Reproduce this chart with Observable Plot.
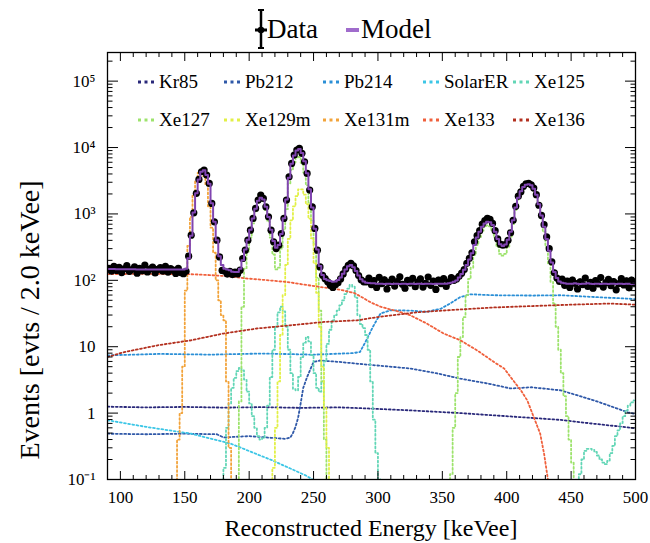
<!DOCTYPE html>
<html><head><meta charset="utf-8">
<script src="https://cdn.jsdelivr.net/npm/d3@7"></script>
<script src="https://cdn.jsdelivr.net/npm/@observablehq/plot@0.6"></script>
<style>
body{margin:0;background:#fff;}
#wrap{position:relative;width:650px;height:543px;font-family:"Liberation Serif","Times New Roman",serif;color:#000;overflow:hidden;}
#wrap > svg{position:absolute;left:0;top:0;}
.ov{position:absolute;white-space:nowrap;line-height:1;}
</style></head><body><div id="wrap"></div>
<script>
// ---------- data ----------
const energyBins = d3.range(91, 500, 2); // 2 keV bin centres
const dataCounts = [152,138,162,141,157,131,149,166,136,145,
 160,128,151,139,170,134,148,158,129,146,
 155,137,163,133,150,142,127,152,131,126,
 137,231,479,1040,2040,3310,4320,4570,3850,2880,
 1440,760,403,225,141,137,124,136,122,133,
 125,142,213,284,403,570,855,1210,1615,1920,
 1710,1280,905,570,380,301,338,507,855,1615,
 3630,5770,7710,9170,9720,8170,6110,4070,2290,1280,
 604,284,159,119,106,95,84,78,86,92,
 105,125,148,168,180,165,140,118,102,95,
 95,108,86,99,78,111,89,102,74,93,
 104,82,96,113,87,76,100,91,107,80,
 94,105,79,90,112,84,97,73,101,89,
 106,81,95,110,100,105,115,128,145,180,
 215,260,380,470,560,700,790,855,830,720,
 560,420,350,338,345,400,520,800,1300,1850,
 2150,2600,2850,2900,2750,2450,1950,1350,950,690,
 450,300,190,130,108,96,104,84,97,78,
 101,90,74,95,86,108,81,93,76,99,
 88,110,79,92,103,83,96,72,89,106,
 85,98,77,101,91];
const modelCounts = [148,148,148,147,147,147,147,147,147,147,
 147,146,146,146,146,146,146,146,146,146,
 146,146,146,145,145,145,145,145,145,146,
 150,215,470,1050,2050,3300,4300,4530,3850,2850,
 1450,760,400,230,170,150,145,142,135,133,
 133,150,200,290,410,580,850,1200,1580,1750,
 1650,1280,900,580,390,310,340,500,860,1650,
 3500,5700,7600,9000,9500,8300,6200,4100,2350,1250,
 600,290,165,120,105,100,98,95,96,101,
 110,126,146,163,170,158,138,118,104,96,
 92,91,90,90,89,89,89,88,89,89,
 88,89,89,88,89,89,88,89,89,88,
 89,89,88,89,89,89,88,89,89,89,
 89,89,90,92,95,99,110,124,144,170,
 205,255,340,440,540,640,720,760,750,680,
 540,420,350,330,345,410,540,800,1250,1750,
 2200,2550,2750,2800,2700,2400,1950,1400,950,640,
 420,280,185,133,108,96,92,90,89,89,
 89,90,89,88,89,89,90,89,88,89,
 89,88,89,89,88,89,89,88,89,89,
 88,89,89,88,89];

const kr85E = [90,120,150,180,210,240,270,290,325,364,403,442,468,494,500];
const kr85V = [1.25,1.22,1.24,1.21,1.23,1.2,1.22,1.18,1.1,1.0,0.89,0.79,0.69,0.61,0.59];
const pb212E = [90,120,150,175,180,200,220,228,232,234,236,238,240,242,245,250,255,270,286,305,325,345,364,385,403,419,442,468,494,500];
const pb212V = [0.49,0.48,0.49,0.48,0.43,0.45,0.42,0.41,0.43,0.5,0.62,0.85,1.4,2.4,3.5,5.9,6.2,5.9,5.5,5.1,4.7,4.0,3.3,2.8,2.35,2.45,2.2,1.55,1.03,0.97];
const pb214E = [90,130,170,210,250,280,286,291,296,302,310,325,338,349,356,364,372,390,420,442,468,494,500];
const pb214V = [7.4,7.8,7.6,7.9,7.6,8.0,8.3,12.5,19.8,31.6,35.4,35,33.5,37.5,44.7,56,61.6,59.6,59,59.6,56,53,52];
const solarE = [90,120,155,186,218,244,250,255];
const solarV = [0.78,0.62,0.49,0.345,0.194,0.115,0.098,0.06];
const xe125E1 = d3.range(179, 305, 2);
const xe125V1 = [0.05,0.15,0.6,1.4,2.4,3.4,4.3,4.8,4.4,3.2,
 2.1,1.4,0.9,0.6,0.45,0.4,0.42,0.6,1.3,3.5,
 9,20,33,40,34,20,9,4,2.3,2.2,
 3.5,7,11.5,14,12,7.5,4,2.4,2.1,3,
 6,11,18,25,30,35,42,50,62,75,
 85,80,55,30,22,19,15,9,3,0.8,
 0.25,0.1,0.03];
const xe125E2 = d3.range(455, 501, 2);
const xe125V2 = [0.06,0.12,0.2,0.27,0.29,0.29,0.28,0.26,0.23,0.2,0.18,0.17,0.19,0.25,0.32,0.45,0.55,0.7,0.9,1.1,1.3,1.45,1.55];
const xe127E1 = d3.range(191, 265, 2);
const xe127V1 = [0.08,1.5,40,150,270,440,720,1080,1480,1790,
 1580,1150,770,440,245,146,155,300,580,1180,
 2900,4600,6000,7100,7200,5900,4200,2700,1450,800,
 350,110,35,3,0.4,0.08,0.02];
const xe127E2 = d3.range(355, 457, 2);
const xe127V2 = [0.05,0.12,0.6,2,7,14,28,60,105,155,
 240,340,450,560,640,670,650,570,440,320,
 250,235,250,315,440,700,1150,1650,2100,2450,
 2650,2700,2600,2300,1850,1300,850,540,320,180,
 95,45,20,9,4,1.8,0.9,0.4,0.18,0.08,0.03];
const xe129mE = d3.range(217, 267, 2);
const xe129mV = [0.05,0.15,0.6,3,15,60,170,420,800,1300,
 1850,2350,2350,1950,1400,850,430,180,65,20,
 5,1.2,0.3,0.08,0.02];
const xe131mE = d3.range(141, 191, 2);
const xe131mV = [0.03,0.08,0.4,1.0,5,70,330,900,1900,3150,
 4150,4400,3700,2730,1300,620,260,100,50,30,
 25,3,0.3,0.08,0.02];
const xe133E = [90,120,153,169,184,197,210,220,230,243,256,271,282,288,294,302,317,325,338,351,364,377,390,398,403,411,416,421,426,429,432,435];
const xe133V = [124,125,124,120,115,107,102,98,94,86,79,72,64,55,47,40,33.4,29.8,22.3,15.8,12.5,8.8,5.9,4.7,3.5,2.2,1.55,0.87,0.49,0.245,0.1,0.04];
const xe136E = [90,103,129,155,180,206,232,258,284,300,330,360,390,420,450,480,500];
const xe136V = [7.0,8.3,10.5,12.5,15.8,18.8,21,23.6,25,28,33,36,39,41,43,44.7,43];

const componentNames = ["Kr85","Pb212","Pb214","SolarER","Xe125","Xe127","Xe129m","Xe131m","Xe133","Xe136"];
const componentColors = ["#29287a","#2f58a8","#2b8fd6","#3cc6e6","#62d6b6","#9de36c","#e2f046","#f2a33a","#f0603c","#b3301f"];

const xMajorTicks = [100,150,200,250,300,350,400,450,500];
const xMinorTicks = d3.range(90, 501, 10).filter(d => d % 50 !== 0);
const yMajorTicks = [0.1,1,10,100,1e3,1e4,1e5];
const yTickLabels = ["10\u207B\u00B9","1","10","10\u00B2","10\u00B3","10\u2074","10\u2075"];
const yMinorTicks = [];
for (let k = -1; k <= 5; k++) for (let m = 2; m <= 9; m++) { const t = m * Math.pow(10, k); if (t < 2.7e5) yMinorTicks.push(t); }

// ---------- tables ----------
const rows = (E, V) => E.map((e, i) => ({E: e, v: V[i]}));
const dataRows = rows(energyBins, dataCounts);
const modelRows = rows(energyBins, modelCounts);
const components = [
  {name: "Kr85", parts: [[kr85E, kr85V, "linear"]]},
  {name: "Pb212", parts: [[pb212E, pb212V, "linear"]]},
  {name: "Pb214", parts: [[pb214E, pb214V, "linear"]]},
  {name: "SolarER", parts: [[solarE, solarV, "linear"]]},
  {name: "Xe125", parts: [[xe125E1, xe125V1, "step"], [xe125E2, xe125V2, "step"]]},
  {name: "Xe127", parts: [[xe127E1, xe127V1, "step"], [xe127E2, xe127V2, "step"]]},
  {name: "Xe129m", parts: [[xe129mE, xe129mV, "step"]]},
  {name: "Xe131m", parts: [[xe131mE, xe131mV, "step"]]},
  {name: "Xe133", parts: [[xe133E, xe133V, "linear"]]},
  {name: "Xe136", parts: [[xe136E, xe136V, "linear"]]}
];

const compMarks = components.flatMap(c => {
  const col = componentColors[componentNames.indexOf(c.name)];
  return c.parts.map(([E, V, curve]) => Plot.line(rows(E, V), {
    x: "E", y: "v", curve, stroke: col, strokeWidth: 1.8,
    strokeDasharray: "1.8 2.4", clip: true
  }));
});

const chart = Plot.plot({
  width: 650, height: 543,
  marginTop: 52, marginLeft: 107, marginRight: 15, marginBottom: 64,
  x: {domain: [90, 500]},
  y: {type: "log", domain: [0.1, 2.7e5]},
  style: {fontFamily: "Liberation Serif, Times New Roman, serif", fontSize: "17px", color: "black", background: "white"},
  marks: [
    ...compMarks,
    Plot.ruleX(dataRows, {x: "E", y1: d => d.v - Math.sqrt(d.v), y2: d => d.v + Math.sqrt(d.v), stroke: "black", strokeWidth: 1.6, clip: true}),
    Plot.ruleY(dataRows, {y: "v", x1: d => d.E - 1, x2: d => d.E + 1, stroke: "black", strokeWidth: 1.6, clip: true}),
    Plot.dot(dataRows, {x: "E", y: "v", r: 3.6, fill: "black", clip: true}),
    Plot.line(modelRows, {x: "E", y: "v", curve: "step", stroke: "#8045b0", strokeWidth: 2, clip: true}),
    Plot.frame({stroke: "black", strokeWidth: 1.3}),
    // labels
    Plot.axisX({ticks: xMajorTicks, anchor: "bottom", tickSize: 0, tickPadding: 11, label: null}),
    Plot.axisY({ticks: yMajorTicks, anchor: "left", tickSize: 0, tickPadding: 12, label: null,
      tickFormat: d => yTickLabels[yMajorTicks.indexOf(d)]}),
    // inward ticks
    Plot.axisX({ticks: xMajorTicks, anchor: "bottom", tickSize: -8, fill: "none", label: null}),
    Plot.axisX({ticks: xMinorTicks, anchor: "bottom", tickSize: -4, fill: "none", label: null}),
    Plot.axisX({ticks: xMajorTicks, anchor: "top", tickSize: -8, fill: "none", label: null}),
    Plot.axisX({ticks: xMinorTicks, anchor: "top", tickSize: -4, fill: "none", label: null}),
    Plot.axisY({ticks: yMajorTicks, anchor: "left", tickSize: -11, fill: "none", label: null}),
    Plot.axisY({ticks: yMinorTicks, anchor: "left", tickSize: -5.5, fill: "none", label: null}),
    Plot.axisY({ticks: yMajorTicks, anchor: "right", tickSize: -11, fill: "none", label: null}),
    Plot.axisY({ticks: yMinorTicks, anchor: "right", tickSize: -5.5, fill: "none", label: null})
  ]
});
const wrap = document.getElementById("wrap");
wrap.appendChild(chart);

// ---------- overlays: legends and axis titles ----------
function addText(txt, left, top, size, extra = "") {
  const d = document.createElement("div");
  d.className = "ov";
  d.textContent = txt;
  d.style.cssText += `left:${left}px;top:${top}px;font-size:${size}px;${extra}`;
  wrap.appendChild(d);
  return d;
}
const NS = "http://www.w3.org/2000/svg";
const over = document.createElementNS(NS, "svg");
over.setAttribute("width", 650); over.setAttribute("height", 543);
over.style.cssText = "position:absolute;left:0;top:0;pointer-events:none";
wrap.appendChild(over);
function svgEl(tag, attrs) {
  const e = document.createElementNS(NS, tag);
  for (const k in attrs) e.setAttribute(k, attrs[k]);
  over.appendChild(e);
  return e;
}
// top legend: Data symbol + Model line
svgEl("line", {x1: 261, y1: 10, x2: 261, y2: 48, stroke: "#000", "stroke-width": 2.5});
svgEl("line", {x1: 258, y1: 10, x2: 264, y2: 10, stroke: "#000", "stroke-width": 2});
svgEl("line", {x1: 258, y1: 48, x2: 264, y2: 48, stroke: "#000", "stroke-width": 2});
svgEl("line", {x1: 255, y1: 30, x2: 267, y2: 30, stroke: "#000", "stroke-width": 3});
svgEl("circle", {cx: 261, cy: 30, r: 3.3, fill: "#000"});
svgEl("line", {x1: 346, y1: 30, x2: 359, y2: 30, stroke: "#a06ccc", "stroke-width": 4});
addText("Data", 267, 16, 27);
addText("Model", 361, 16, 27);

// component legend, 2 rows x 5 columns
const legCols = [138, 224, 323, 423, 513];
const legRows = [82, 120];
componentNames.forEach((n, i) => {
  const x = legCols[i % 5], y = legRows[Math.floor(i / 5)];
  svgEl("line", {x1: x, y1: y, x2: x + 17, y2: y, stroke: componentColors[i], "stroke-width": 3, "stroke-dasharray": "3 3.5"});
  addText(n, x + 21, y - 10, 19);
});

// axis titles
addText("Reconstructed Energy [keVee]", 107, 516, 24, "width:528px;text-align:center;");
addText("Events [evts / 2.0 keVee]", 30, 320, 28, "transform:translate(-50%,-50%) rotate(-90deg);");
</script></body></html>
